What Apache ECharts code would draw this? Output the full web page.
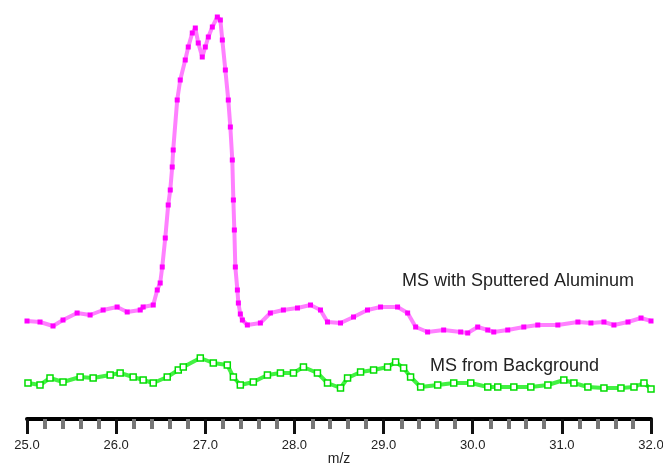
<!DOCTYPE html>
<html>
<head>
<meta charset="utf-8">
<script src="https://cdn.jsdelivr.net/npm/echarts@6/dist/echarts.min.js"></script>
<style>
  html, body { margin: 0; padding: 0; background: #fff; }
  #msChart { width: 663px; height: 466px; }
</style>
</head>
<body>
<div id="msChart"></div>
<script>
// m/z ticks
const xTicks = [25, 26, 27, 28, 29, 30, 31, 32];

// MS with Sputtered Aluminum (m/z, intensity)
const alMz = [25.000, 25.146, 25.292, 25.404, 25.562, 25.708, 25.854, 26.011, 26.124, 26.270,
  26.303, 26.416, 26.461, 26.494, 26.517, 26.551, 26.584, 26.607, 26.629, 26.640,
  26.685, 26.719, 26.775, 26.809, 26.854, 26.888, 26.921, 26.966, 27.000, 27.034,
  27.079, 27.135, 27.169, 27.191, 27.225, 27.258, 27.281, 27.303, 27.315, 27.326,
  27.337, 27.360, 27.371, 27.393, 27.416, 27.472, 27.618, 27.730, 27.876, 28.034,
  28.180, 28.292, 28.371, 28.517, 28.663, 28.820, 28.966, 29.157, 29.270, 29.360,
  29.494, 29.674, 29.865, 29.944, 30.056, 30.169, 30.236, 30.393, 30.573, 30.730,
  30.955, 31.180, 31.326, 31.472, 31.584, 31.742, 31.888, 32.000];
const alInt = [24.5, 24.25, 23.25, 24.75, 26.5, 26, 27.25, 28, 26.75, 27.25,
  28, 28.5, 32.25, 34, 38, 45.25, 53.5, 57.25, 63, 67.25,
  79.75, 84.75, 89.75, 93, 96.5, 97.75, 94, 90.5, 93, 95.5,
  98, 100.5, 99.75, 94.75, 87.25, 79.75, 73, 64.75, 54.75, 47.25,
  38, 32.25, 29, 26.25, 24.75, 23.5, 24, 26.5, 27.25, 27.75,
  28.5, 27.25, 24.25, 24, 25.5, 27.25, 28, 28, 26.5, 23,
  21.75, 22.25, 21.75, 21.5, 23, 22.25, 21.75, 22.25, 23, 23.5,
  23.5, 24.25, 24, 24.25, 23.5, 24.25, 25.25, 24.5];

// MS from Background (m/z, intensity)
const bgMz = [25.011, 25.146, 25.258, 25.404, 25.596, 25.742, 25.933, 26.045, 26.191, 26.303,
  26.416, 26.573, 26.697, 26.753, 26.944, 27.090, 27.247, 27.315, 27.393, 27.539,
  27.697, 27.843, 27.989, 28.101, 28.258, 28.371, 28.517, 28.596, 28.742, 28.888,
  29.045, 29.135, 29.225, 29.303, 29.416, 29.607, 29.787, 29.978, 30.169, 30.281,
  30.461, 30.652, 30.843, 31.022, 31.135, 31.292, 31.472, 31.663, 31.809, 31.921, 32.000];
const bgInt = [9, 8.5, 10.25, 9.25, 10.5, 10.25, 11, 11.5, 10.5, 9.75,
  9, 10.5, 12.25, 13, 15.25, 14, 13.5, 10.5, 8.5, 9.25,
  11, 11.5, 11.5, 13, 11.5, 9, 7.75, 10.25, 11.75, 12.25,
  13, 14.25, 12.75, 10.5, 8, 8.5, 9, 9, 8, 8,
  8, 8, 8.5, 9.75, 9, 8, 7.75, 7.75, 8, 9, 7.5];

const seriesNames = ['MS with Sputtered Aluminum', 'MS from Background'];

var msChart = echarts.init(document.getElementById('msChart'));
var font = '"Liberation Sans", Arial, Helvetica, sans-serif';

option = {
  animation: false,
  grid: { left: 27, right: 12, top: 15, bottom: 47, outerBoundsMode: 'none', containLabel: false },
  xAxis: {
    type: 'value',
    min: xTicks[0],
    max: xTicks[xTicks.length - 1],
    interval: 1,
    name: 'm/z',
    nameLocation: 'middle',
    nameGap: 33,
    nameMoveOverlap: false,
    nameTextStyle: { fontFamily: font, fontSize: 14, color: '#222' },
    axisLine: { lineStyle: { color: '#000', width: 4 } },
    axisTick: { length: 15, lineStyle: { color: '#111', width: 3 } },
    minorTick: { show: true, splitNumber: 5, length: 10, lineStyle: { color: '#777', width: 4 } },
    splitLine: { show: false },
    axisLabel: {
      margin: 20,
      fontFamily: font,
      fontSize: 13,
      color: '#222',
      formatter: function (v) { return v.toFixed(1); }
    }
  },
  yAxis: { type: 'value', show: false, min: 0, max: 101 },
  graphic: [
    { type: 'text', left: 402, top: 272,
      style: { text: seriesNames[0], font: '18px ' + font, fill: '#222' } },
    { type: 'text', left: 430, top: 357,
      style: { text: seriesNames[1], font: '18px ' + font, fill: '#222' } }
  ],
  series: [
    {
      type: 'line',
      name: seriesNames[0],
      data: alMz.map(function (m, i) { return [m, alInt[i]]; }),
      symbol: 'rect',
      symbolSize: 5,
      showAllSymbol: true,
      itemStyle: { color: '#ff00ff' },
      lineStyle: { color: '#ff55ff', width: 4, opacity: 0.75 }
    },
    {
      type: 'line',
      name: seriesNames[1],
      data: bgMz.map(function (m, i) { return [m, bgInt[i]]; }),
      symbol: 'rect',
      symbolSize: 6,
      showAllSymbol: true,
      itemStyle: { color: '#ffffff', borderColor: '#00dd00', borderWidth: 1.5 },
      lineStyle: { color: '#22ee22', width: 4, opacity: 0.85 }
    }
  ]
};
msChart.setOption(option);
</script>
</body>
</html>
